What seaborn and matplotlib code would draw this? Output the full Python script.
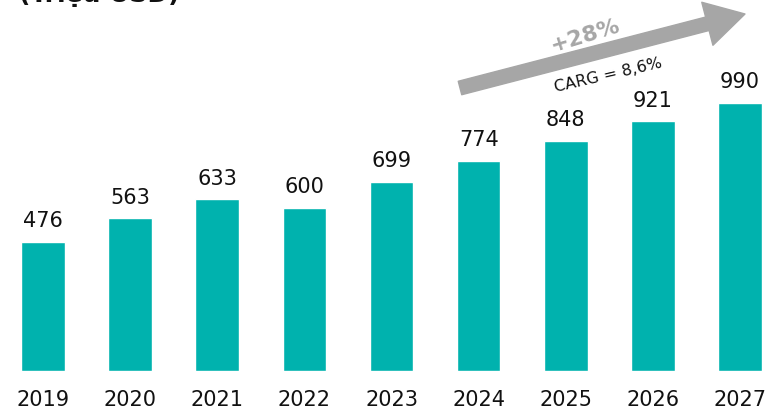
import matplotlib
matplotlib.use("Agg")
import matplotlib.pyplot as plt
import seaborn as sns
import pandas as pd

years = ["2019", "2020", "2021", "2022", "2023", "2024", "2025", "2026", "2027"]
values = [476, 563, 633, 600, 699, 774, 848, 921, 990]
title_text = "(Triệu USD)"
growth_text = "+28%"
cagr_text = "CARG = 8,6%"

sns.set_theme(style="white")
plt.rcParams['font.family'] = ['DejaVu Sans']

df = pd.DataFrame({"year": years, "value": values})

fig = plt.figure(figsize=(7.67, 4.09), dpi=100)
ax = fig.add_axes([0, 38/409, 1, 1 - 38/409])
sns.barplot(data=df, x="year", y="value", color="#00B2AE", width=0.5,
            saturation=1, ax=ax)
ax.set_xlim(-0.494, 8.31)
ax.set_ylim(0, 1369)
for s in ax.spines.values():
    s.set_visible(False)
ax.set_yticks([])
ax.set_xlabel("")
ax.set_ylabel("")
ax.tick_params(axis="x", length=0, pad=13.5, labelsize=15, colors="#111111")

for i, v in enumerate(values):
    ax.text(i, v + 55, f"{v}", ha="center", va="baseline", fontsize=15, color="#111111")

fig.text(0.025, 1 - 7/409, title_text, ha="left", va="bottom", fontsize=18,
         fontweight="bold", color="#111111")

ax.annotate("", xy=(745, 409-14), xytext=(460, 409-88), xycoords="figure pixels",
            textcoords="figure pixels",
            arrowprops=dict(arrowstyle="simple,head_width=1.6,head_length=1.4,tail_width=0.5",
                            color="#A6A6A6", mutation_scale=20, shrinkA=0, shrinkB=0))
fig.text(585/767, 1 - 36/409, growth_text, ha="center", va="center", fontsize=16,
         fontweight="bold", color="#A6A6A6", rotation=17)
fig.text(608/767, 1 - 75/409, cagr_text, ha="center", va="center", fontsize=11.5,
         color="#111111", rotation=13)

fig.savefig("out.png", dpi=100)
